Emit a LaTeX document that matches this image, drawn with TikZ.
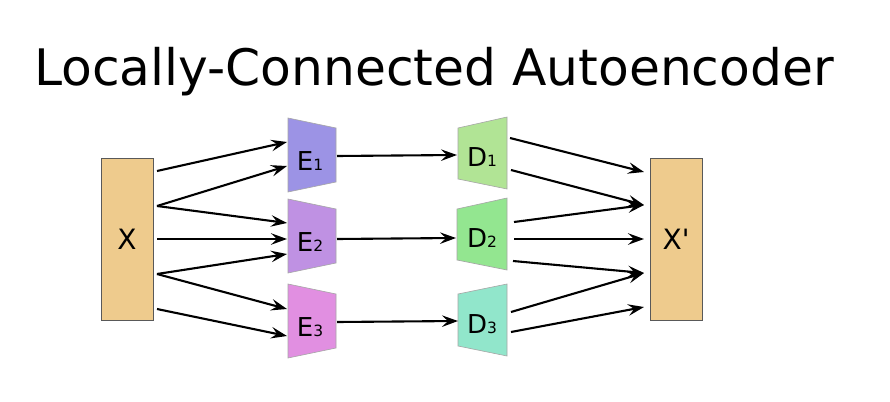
\documentclass[tikz,border=0pt]{standalone}
\usepackage{fontspec}
\setmainfont{DejaVu Sans}
\newfontfamily\rawfont{DejaVu Sans}[Ligatures=TeXOff]
\usetikzlibrary{arrows.meta}
\definecolor{xcol}{HTML}{EECB8D}
\definecolor{ecolA}{HTML}{9C93E5}
\definecolor{ecolB}{HTML}{BF91E3}
\definecolor{ecolC}{HTML}{E18FE1}
\definecolor{dcolA}{HTML}{B1E495}
\definecolor{dcolB}{HTML}{93E690}
\definecolor{dcolC}{HTML}{91E6CB}
\begin{document}
\begin{tikzpicture}[x=1pt,y=-1pt,
  arr/.style={-{Stealth[length=16pt,width=11.5pt,inset=6pt]}, line width=2.1pt},
  xbox/.style={draw=black!65, line width=0.9pt, fill=xcol, minimum width=52pt, minimum height=162pt, inner sep=0pt, font=\fontsize{28}{28}\selectfont},
  trap/.style={draw=black!35, line width=0.6pt},
  lbl/.style={font=\fontsize{26}{26}\selectfont, anchor=base, inner sep=0pt},
  title/.style={font=\fontsize{50.3}{51}\selectfont, anchor=base, inner sep=0pt}
]
\useasboundingbox (0,0) rectangle (890,401);
\fill[white] (0,0) rectangle (890,401);

\node[title] (T) at (434,86) {Locally-Connected Autoencoder};

% input / output
\node[xbox] (X) at (127,239) {X};
\node[xbox] (Xp) at (676,239) {\rawfont X'};

% encoders
\draw[trap, fill=ecolA] (288,118) -- (336,128) -- (336,182) -- (288,192) -- cycle;
\draw[trap, fill=ecolB] (288,199) -- (336,209) -- (336,263) -- (288,273) -- cycle;
\draw[trap, fill=ecolC] (288,284) -- (336,294) -- (336,348) -- (288,358) -- cycle;
\node[lbl] (E1) at (310,170) {E{\fontsize{15.5}{15.5}\selectfont 1}};
\node[lbl] (E2) at (310,251) {E{\fontsize{15.5}{15.5}\selectfont 2}};
\node[lbl] (E3) at (310,336) {E{\fontsize{15.5}{15.5}\selectfont 3}};

% decoders
\draw[trap, fill=dcolA] (458,128) -- (507,117) -- (507,189) -- (458,179) -- cycle;
\draw[trap, fill=dcolB] (457,209) -- (507,198) -- (507,270) -- (457,260) -- cycle;
\draw[trap, fill=dcolC] (458,294) -- (507,284) -- (507,356) -- (458,346) -- cycle;
\node[lbl] (D1) at (482,166) {D{\fontsize{15.5}{15.5}\selectfont 1}};
\node[lbl] (D2) at (482,247) {D{\fontsize{15.5}{15.5}\selectfont 2}};
\node[lbl] (D3) at (482,333) {D{\fontsize{15.5}{15.5}\selectfont 3}};

% connector end points
\coordinate (xa) at (157,171);
\coordinate (xb) at (157,206);
\coordinate (xc) at (157,239);
\coordinate (xd) at (157,274);
\coordinate (xe) at (157,309);
\coordinate (e1a) at (287,142);
\coordinate (e1b) at (287,166);
\coordinate (e2a) at (287,223);
\coordinate (e2b) at (287,239);
\coordinate (e2c) at (287,254);
\coordinate (e3a) at (287,309);
\coordinate (e3b) at (287,336);
\coordinate (e1o) at (337,156);
\coordinate (e2o) at (337,239);
\coordinate (e3o) at (337,322);
\coordinate (d1i) at (457,155);
\coordinate (d2i) at (456,238);
\coordinate (d3i) at (458,321);
\coordinate (d1a) at (510,138);
\coordinate (d1b) at (511,170);
\coordinate (d2a) at (514,222);
\coordinate (d2b) at (514,239);
\coordinate (d2c) at (513,261);
\coordinate (d3a) at (511,312);
\coordinate (d3b) at (511,332);
\coordinate (ya) at (644,172);
\coordinate (yb) at (644,205);
\coordinate (yc) at (644,239);
\coordinate (yd) at (644,273);
\coordinate (ye) at (644,307);

% X -> E
\draw[arr] (xa) -- (e1a);
\draw[arr] (xb) -- (e1b);
\draw[arr] (xb) -- (e2a);
\draw[arr] (xc) -- (e2b);
\draw[arr] (xd) -- (e2c);
\draw[arr] (xd) -- (e3a);
\draw[arr] (xe) -- (e3b);
% E -> D
\draw[arr] (e1o) -- (d1i);
\draw[arr] (e2o) -- (d2i);
\draw[arr] (e3o) -- (d3i);
% D -> X'
\draw[arr] (d1a) -- (ya);
\draw[arr] (d1b) -- (yb);
\draw[arr] (d2a) -- (yb);
\draw[arr] (d2b) -- (yc);
\draw[arr] (d2c) -- (yd);
\draw[arr] (d3a) -- (yd);
\draw[arr] (d3b) -- (ye);
\end{tikzpicture}
\end{document}
